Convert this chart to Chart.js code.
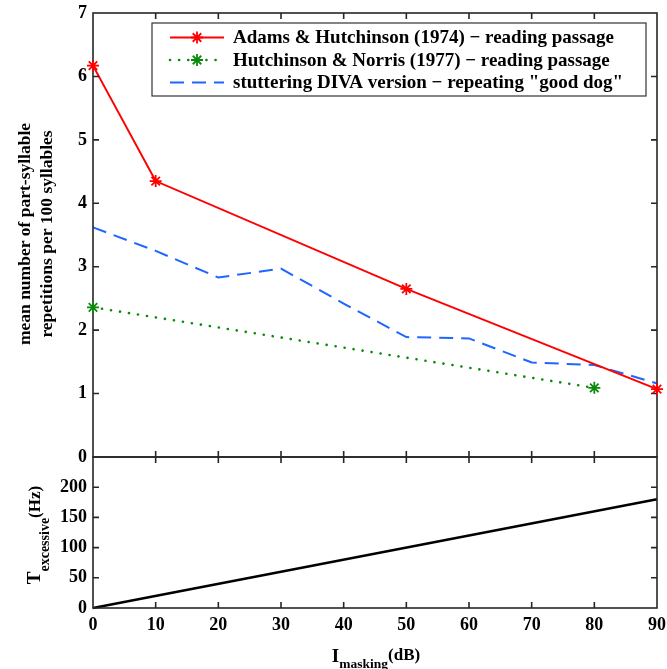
<!DOCTYPE html>
<html><head><meta charset="utf-8">
<script src="https://cdn.jsdelivr.net/npm/chart.js@4.4.1/dist/chart.umd.min.js"></script>
<style>
html,body{margin:0;padding:0;background:#fff;}
#wrap{position:relative;width:667px;height:669px;}
canvas{position:absolute;left:0;top:0;}
</style></head><body>
<div id="wrap"><canvas id="top" width="667" height="669"></canvas><canvas id="bot" width="667" height="669"></canvas></div>
<script>
// ---- data ----
const adamsX = [0, 10, 50, 90];
const adamsY = [6.17, 4.35, 2.65, 1.07];
const norrisX = [0, 80];
const norrisY = [2.36, 1.09];
const divaX = [0, 10, 20, 30, 40, 50, 60, 70, 80, 90];
const divaY = [3.62, 3.25, 2.83, 2.97, 2.42, 1.89, 1.87, 1.49, 1.45, 1.16];
const texX = [0, 90];
const texY = [0, 180];
const xTicks = [0, 10, 20, 30, 40, 50, 60, 70, 80, 90];
const yTopTicks = [0, 1, 2, 3, 4, 5, 6, 7];
const yBotTicks = [0, 50, 100, 150, 200];
const legendLabels = [
  'Adams & Hutchinson (1974) \u2212 reading passage',
  'Hutchinson & Norris (1977) \u2212 reading passage',
  'stuttering DIVA version \u2212 repeating "good dog"'
];
const yTopTitle = ['mean number of part-syllable', 'repetitions per 100 syllables'];

const FONT = '"Liberation Serif", "DejaVu Serif", serif';
const tickFont = {family: FONT, size: 18, weight: 'bold', lineHeight: 1};
const pts = (xs, ys) => xs.map((x, i) => ({x, y: ys[i]}));

function drawStar(ctx, x, y, r, color) {
  ctx.save(); ctx.strokeStyle = color; ctx.lineWidth = 1.8; ctx.setLineDash([]);
  ctx.beginPath();
  for (let k = 0; k < 4; k++) {
    const a = k * Math.PI / 4;
    ctx.moveTo(x - r * Math.cos(a), y - r * Math.sin(a));
    ctx.lineTo(x + r * Math.cos(a), y + r * Math.sin(a));
  }
  ctx.stroke(); ctx.restore();
}

const frame = {
  id: 'frame',
  afterDatasetsDraw(chart, args, opts) {
    const ctx = chart.ctx, a = chart.chartArea, xs = chart.scales.x, ys = chart.scales.y;
    ctx.save(); ctx.strokeStyle = '#262626'; ctx.lineWidth = 1.6; ctx.setLineDash([]);
    ctx.strokeRect(a.left, a.top, a.right - a.left, a.bottom - a.top);
    const L = 6;
    ctx.beginPath();
    xTicks.forEach(v => {
      const p = xs.getPixelForValue(v);
      if (p <= a.left + 1 || p >= a.right - 1) return;
      ctx.moveTo(p, a.bottom); ctx.lineTo(p, a.bottom - L);
      ctx.moveTo(p, a.top); ctx.lineTo(p, a.top + L);
    });
    (opts.yt || []).forEach(v => {
      const p = ys.getPixelForValue(v);
      if (p <= a.top + 1 || p >= a.bottom - 1) return;
      ctx.moveTo(a.left, p); ctx.lineTo(a.left + L, p);
      ctx.moveTo(a.right, p); ctx.lineTo(a.right - L, p);
    });
    ctx.stroke(); ctx.restore();
  }
};

const legendPlugin = {
  id: 'boxLegend',
  afterDraw(chart) {
    const ctx = chart.ctx;
    const bx = 152, by = 23, bw = 494, bh = 73;
    ctx.save();
    ctx.fillStyle = '#fff'; ctx.fillRect(bx, by, bw, bh);
    ctx.strokeStyle = '#333'; ctx.lineWidth = 1.2; ctx.strokeRect(bx, by, bw, bh);
    const rows = [37.5, 60, 82.5];
    chart.data.datasets.forEach((ds, i) => {
      const y = rows[i];
      ctx.save();
      ctx.strokeStyle = ds.borderColor; ctx.lineWidth = ds.borderWidth;
      ctx.setLineDash(ds.borderDash || []); ctx.lineCap = ds.borderCapStyle || 'butt';
      ctx.beginPath(); ctx.moveTo(170, y); ctx.lineTo(224, y); ctx.stroke();
      ctx.restore();
      if (ds.pointRadius > 0) drawStar(ctx, 197, y, 6, ds.borderColor);
      ctx.fillStyle = '#000'; ctx.font = 'bold 19px ' + FONT;
      ctx.textAlign = 'left'; ctx.textBaseline = 'middle';
      ctx.fillText(ds.label, 233, y + 1);
    });
    ctx.restore();
  }
};

const starPoints = {
  id: 'starPoints',
  afterDatasetsDraw(chart) {
    chart.data.datasets.forEach((ds, i) => {
      if (!ds.pointRadius) return;
      const meta = chart.getDatasetMeta(i);
      meta.data.forEach(el => drawStar(chart.ctx, el.x, el.y, 6, ds.borderColor));
    });
  }
};

const topTitle = {
  id: 'topTitle',
  afterDraw(chart) {
    const ctx = chart.ctx;
    ctx.save(); ctx.translate(25, 234); ctx.rotate(-Math.PI / 2);
    ctx.fillStyle = '#000'; ctx.font = 'bold 17.5px ' + FONT;
    ctx.textAlign = 'center'; ctx.textBaseline = 'middle';
    ctx.fillText(yTopTitle[0], 0, 0);
    ctx.fillText(yTopTitle[1], 0, 22);
    ctx.restore();
  }
};

function drawSubText(ctx, parts) {
  let w = 0;
  parts.forEach(p => { ctx.font = 'bold ' + p[1] + 'px ' + FONT; p.w = ctx.measureText(p[0]).width; w += p.w; });
  let x = -w / 2;
  parts.forEach(p => { ctx.font = 'bold ' + p[1] + 'px ' + FONT; ctx.fillText(p[0], x, p[2]); x += p.w; });
}

const botTitles = {
  id: 'botTitles',
  afterDraw(chart) {
    const ctx = chart.ctx;
    ctx.save(); ctx.fillStyle = '#000'; ctx.textAlign = 'left'; ctx.textBaseline = 'alphabetic';
    ctx.save(); ctx.translate(40, 535); ctx.rotate(-Math.PI / 2);
    drawSubText(ctx, [['T', 19, 0], ['excessive', 14, 9], ['(Hz)', 17, 0]]);
    ctx.restore();
    ctx.save(); ctx.translate(376, 662);
    drawSubText(ctx, [['I', 19, 0], ['masking', 13.5, 6], ['(dB)', 17, -2]]);
    ctx.restore();
    ctx.restore();
  }
};

const dsCommon = {clip: false, tension: 0, fill: false, pointHitRadius: 0};

new Chart(document.getElementById('top'), {
  type: 'line',
  data: {datasets: [
    Object.assign({label: legendLabels[0], data: pts(adamsX, adamsY), borderColor: '#ff0000',
      borderWidth: 2, pointRadius: 6, pointStyle: false}, dsCommon),
    Object.assign({label: legendLabels[1], data: pts(norrisX, norrisY), borderColor: '#0b8a0b',
      borderWidth: 2.6, borderDash: [0.1, 9], borderCapStyle: 'round', pointRadius: 6, pointStyle: false}, dsCommon),
    Object.assign({label: legendLabels[2], data: pts(divaX, divaY), borderColor: '#1f66ff',
      borderWidth: 2, borderDash: [14, 8], pointRadius: 0}, dsCommon)
  ]},
  options: {
    responsive: false, animation: false, devicePixelRatio: 1,
    layout: {padding: {left: 0, top: 13, right: 10, bottom: 212}},
    plugins: {legend: {display: false}, tooltip: {enabled: false}, frame: {yt: yTopTicks}},
    scales: {
      x: {type: 'linear', min: 0, max: 90, display: false},
      y: {type: 'linear', min: 0, max: 7,
        afterBuildTicks: s => { s.ticks = yTopTicks.map(v => ({value: v})); },
        ticks: {font: tickFont, color: '#000', padding: 6},
        grid: {display: false, drawTicks: false}, border: {display: false},
        afterFit: s => { s.width = 93; s.paddingTop = 0; s.paddingBottom = 0; }}
    }
  },
  plugins: [frame, starPoints, legendPlugin, topTitle]
});

new Chart(document.getElementById('bot'), {
  type: 'line',
  data: {datasets: [
    Object.assign({label: 'T', data: pts(texX, texY), borderColor: '#000', borderWidth: 2.4, pointRadius: 0}, dsCommon)
  ]},
  options: {
    responsive: false, animation: false, devicePixelRatio: 1,
    layout: {padding: {left: 0, top: 457, right: 10, bottom: 31}},
    plugins: {legend: {display: false}, tooltip: {enabled: false}, frame: {yt: yBotTicks}},
    scales: {
      x: {type: 'linear', min: 0, max: 90,
        afterBuildTicks: s => { s.ticks = xTicks.map(v => ({value: v})); },
        ticks: {font: tickFont, color: '#000', padding: 8, maxRotation: 0, autoSkip: false},
        grid: {display: false, drawTicks: false}, border: {display: false},
        afterFit: s => { s.height = 30; s.paddingLeft = 0; s.paddingRight = 0; }},
      y: {type: 'linear', min: 0, max: 250,
        afterBuildTicks: s => { s.ticks = yBotTicks.map(v => ({value: v})); },
        ticks: {font: tickFont, color: '#000', padding: 6},
        grid: {display: false, drawTicks: false}, border: {display: false},
        afterFit: s => { s.width = 93; s.paddingTop = 0; s.paddingBottom = 0; }}
    }
  },
  plugins: [frame, botTitles]
});
</script>
</body></html>
